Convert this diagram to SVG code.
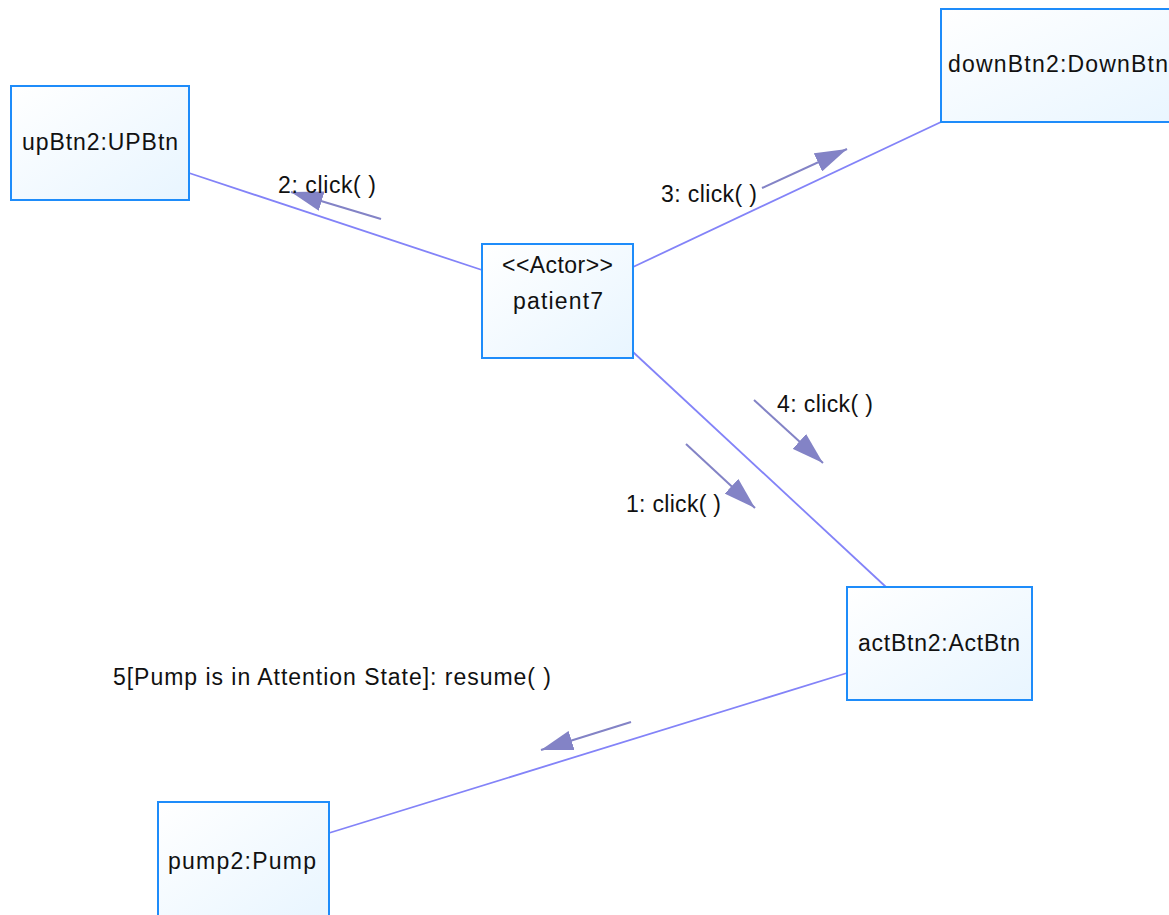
<svg xmlns="http://www.w3.org/2000/svg" width="1169" height="915" viewBox="0 0 1169 915">
  <style>
    .box { stroke: #1E8CFA; stroke-width: 2; fill: url(#boxFill); }
    .txt { font-family: "Liberation Sans", Arial, sans-serif; font-size: 23px; fill: #111111; }
    .link { stroke: #8383F8; stroke-width: 1.8; fill: none; }
    .msg { stroke: #8383C6; stroke-width: 2; fill: none; marker-end: url(#msgHead); }
  </style>
  <defs>
    <linearGradient id="boxFill" x1="0" y1="0" x2="1" y2="1">
      <stop offset="0" stop-color="#FFFFFF"/>
      <stop offset="1" stop-color="#E8F5FF"/>
    </linearGradient>
    <marker id="msgHead" viewBox="0 0 32 20" refX="32" refY="10" markerWidth="32" markerHeight="20" markerUnits="userSpaceOnUse" orient="auto">
      <path d="M0,0 L32,10 L0,20 z" fill="#8383C6"/>
    </marker>
  </defs>

  <!-- links between objects -->
  <g id="connectors">
    <line class="link" x1="189" y1="173" x2="482" y2="270"/>
    <line class="link" x1="633" y1="267" x2="941" y2="122"/>
    <line class="link" x1="633" y1="352" x2="886" y2="587"/>
    <line class="link" x1="847" y1="673" x2="329" y2="833"/>

    <!-- message arrows -->
    <line class="msg" x1="381" y1="219" x2="291" y2="192"/>
    <line class="msg" x1="762" y1="188" x2="847" y2="149"/>
    <line class="msg" x1="754" y1="400" x2="823" y2="463"/>
    <line class="msg" x1="686" y1="444" x2="755" y2="508"/>
    <line class="msg" x1="631" y1="722" x2="541" y2="750"/>

    <!-- message labels -->
    <text class="txt" x="278" y="193" textLength="98" lengthAdjust="spacing">2: click( )</text>
    <text class="txt" x="661" y="202" textLength="96" lengthAdjust="spacing">3: click( )</text>
    <text class="txt" x="777" y="412" textLength="96" lengthAdjust="spacing">4: click( )</text>
    <text class="txt" x="626" y="512" textLength="95" lengthAdjust="spacing">1: click( )</text>
    <text class="txt" x="113" y="685" textLength="438" lengthAdjust="spacing">5[Pump is in Attention State]: resume( )</text>
  </g>

  <g id="upBtn2">
    <rect class="box" x="11" y="86" width="178" height="114"/>
    <text class="txt" x="22" y="150" textLength="156" lengthAdjust="spacing">upBtn2:UPBtn</text>
  </g>

  <g id="downBtn2">
    <rect class="box" x="941" y="9" width="260" height="113"/>
    <text class="txt" x="948" y="72" textLength="220" lengthAdjust="spacing">downBtn2:DownBtn</text>
  </g>

  <g id="patient7">
    <rect class="box" x="482" y="244" width="151" height="114"/>
    <text class="txt" x="502" y="273" textLength="111" lengthAdjust="spacing">&lt;&lt;Actor&gt;&gt;</text>
    <text class="txt" x="513" y="309" textLength="90" lengthAdjust="spacing">patient7</text>
  </g>

  <g id="actBtn2">
    <rect class="box" x="847" y="587" width="185" height="113"/>
    <text class="txt" x="858" y="651" textLength="162" lengthAdjust="spacing">actBtn2:ActBtn</text>
  </g>

  <g id="pump2">
    <rect class="box" x="158" y="802" width="171" height="120"/>
    <text class="txt" x="168" y="869" textLength="148" lengthAdjust="spacing">pump2:Pump</text>
  </g>
</svg>
